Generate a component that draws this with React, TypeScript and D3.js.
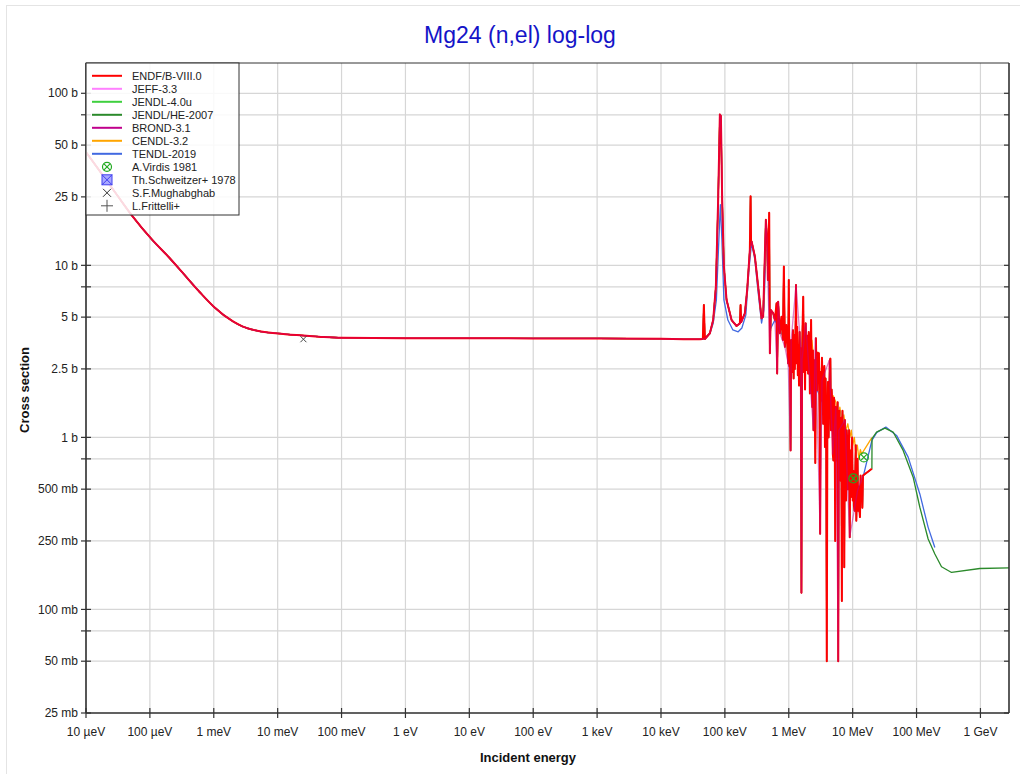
import React from "react";
import * as d3 from "d3";

// ---- data (energy in eV, cross section in barns) ----

// smooth 1/v + potential scattering part, shared by all evaluations
const thermalE = [1e-5, 2e-5, 3e-5, 5.4e-5, 1.1e-4, 2e-4, 3.3e-4, 6e-4, 1e-3, 2e-3, 2.8e-3, 5e-3, 1e-2, 2e-2, 4.4e-2, 0.1, 1, 10, 100, 1e3, 1e4, 3e4, 4.06e4];
const thermalXs = [45.5, 31.9, 25.9, 19.2, 14.0, 11.1, 9.0, 7.0, 5.75, 4.72, 4.42, 4.15, 4.02, 3.93, 3.85, 3.79, 3.77, 3.77, 3.76, 3.76, 3.74, 3.72, 3.72];

// ENDF/B-VIII.0 resolved resonances below 1 MeV
const endfResE = [4.52e4, 4.69e4, 4.86e4, 5.82e4, 6.56e4, 7.23e4, 7.85e4, 8.35e4, 8.66e4, 9.07e4,
    9.65e4, 1.063e5, 1.273e5, 1.524e5, 1.717e5, 1.76e5, 1.8e5, 2.056e5, 2.234e5, 2.46e5,
    2.525e5, 2.57e5, 2.62e5, 2.95e5, 3.32e5, 3.75e5, 3.97e5, 4.38e5, 4.59e5, 4.71e5,
    4.94e5, 5.06e5, 5.25e5, 5.7e5, 6.06e5, 6.44e5, 6.58e5, 6.82e5, 7.26e5, 7.71e5,
    8.08e5, 8.38e5, 8.69e5, 9.17e5, 9.79e5];
const endfResXs = [3.73, 5.88, 3.73, 4.03, 4.81, 7.52, 24.1, 75.4, 73.7, 24.1,
    9.84, 6.29, 4.81, 4.44, 4.6, 5.88, 4.68, 5.27, 7.2, 12.3,
    25.2, 13.2, 13.76, 11.25, 7.52, 4.92, 5.03, 18.4, 14.1, 8.23,
    20.2, 3.08, 5.5, 5.27, 4.81, 6.02, 2.35, 6.15, 4.03, 5.03,
    3.68, 9.84, 3.36, 4.5, 2.69];

// ENDF/B-VIII.0 dense region 1 - 20 MeV (energies in MeV)
const endfDenseMeV = [1.000, 1.022, 1.044, 1.067, 1.091, 1.115, 1.139, 1.164, 1.190, 1.216,
    1.243, 1.270, 1.298, 1.327, 1.356, 1.386, 1.416, 1.447, 1.479, 1.512,
    1.545, 1.579, 1.614, 1.649, 1.685, 1.722, 1.760, 1.799, 1.839, 1.879,
    1.920, 1.963, 2.006, 2.050, 2.095, 2.141, 2.188, 2.236, 2.285, 2.335,
    2.387, 2.439, 2.493, 2.548, 2.604, 2.661, 2.719, 2.779, 2.840, 2.903,
    2.966, 3.032, 3.098, 3.166, 3.236, 3.307, 3.380, 3.454, 3.530, 3.608,
    3.687, 3.768, 3.851, 3.935, 4.022, 4.110, 4.200, 4.293, 4.387, 4.483,
    4.582, 4.683, 4.786, 4.891, 4.998, 5.108, 5.221, 5.335, 5.453, 5.573,
    5.695, 5.820, 5.948, 6.079, 6.213, 6.349, 6.489, 6.632, 6.777, 6.926,
    7.079, 7.234, 7.393, 7.556, 7.722, 7.892, 8.066, 8.243, 8.424, 8.610,
    8.799, 8.992, 9.190, 9.392, 9.599, 9.810, 10.03, 10.25, 10.47, 10.70,
    10.94, 11.18, 11.42, 11.67, 11.93, 12.19, 12.46, 12.74, 13.02, 13.30,
    13.59, 13.89, 14.20, 14.51, 20.0];
const endfDenseXs = [8.23, 2.6, 3.6, 0.84, 3.68, 2.4, 3.08, 4.2, 2.2, 3.94,
    2.5, 3.6, 7.69, 2.7, 4.4, 2.3, 3.44, 2.0, 4.1, 2.15,
    3.3, 0.125, 2.81, 4.6, 6.56, 2.4, 3.22, 1.9, 4.6, 2.8,
    2.46, 3.9, 2.35, 4.1, 3.68, 1.8, 3.0, 4.81, 2.2, 1.5,
    3.2, 1.1, 2.81, 1.6, 0.71, 3.77, 2.2, 1.88, 3.1, 2.46,
    3.08, 1.4, 0.275, 2.4, 1.64, 2.9, 2.15, 1.2, 2.35, 2.6,
    0.88, 2.2, 1.1, 0.05, 1.26, 2.1, 1.0, 1.64, 2.8, 2.87,
    1.1, 1.9, 1.64, 0.8, 0.735, 1.7, 1.43, 0.25, 1.5, 1.26,
    0.735, 1.6, 0.05, 1.1, 1.43, 0.7, 0.56, 1.3, 0.112, 1.43,
    0.9, 1.2, 0.176, 1.26, 0.6, 0.43, 1.1, 0.96, 0.5, 0.64,
    1.1, 0.263, 0.84, 0.45, 0.68, 1.0, 0.43, 0.64, 0.4, 0.375,
    0.56, 0.9, 0.328, 0.49, 0.75, 0.375, 0.52, 0.38, 0.344, 0.6,
    0.45, 0.5, 0.39, 0.6, 0.657];

// BROND-3.1 (broad resonances, no narrow spikes)
const brondResE = [4.52e4, 4.86e4, 5.82e4, 6.56e4, 7.23e4, 7.85e4, 8.35e4, 8.66e4, 9.07e4, 9.65e4,
    1.063e5, 1.273e5, 1.524e5, 1.717e5, 1.8e5, 2.056e5, 2.234e5, 2.46e5, 2.57e5, 2.62e5,
    2.95e5, 3.32e5, 3.75e5, 3.97e5, 4.38e5, 4.59e5, 4.71e5, 5.06e5, 5.25e5, 5.7e5,
    6.06e5, 6.58e5, 6.82e5, 7.26e5, 8.69e5, 9.79e5, 1.067e6, 1.091e6, 1.298e6, 1.545e6,
    1.579e6, 1.614e6, 1.839e6, 2.439e6, 2.604e6, 3.098e6, 3.307e6, 4.293e6, 4.891e6, 5.453e6,
    5.948e6, 6.079e6, 7.556e6, 8.992e6, 1.193e7, 1.451e7];
const brondResXs = [3.73, 3.73, 4.03, 4.81, 7.52, 24.1, 75.4, 73.7, 24.1, 9.84,
    6.29, 4.81, 4.44, 4.6, 4.68, 5.27, 7.2, 12.3, 13.2, 13.76,
    11.25, 7.52, 4.92, 5.03, 18.4, 14.1, 8.23, 3.08, 5.5, 5.27,
    4.81, 2.35, 6.15, 4.03, 3.36, 2.69, 0.84, 3.68, 7.69, 3.3,
    0.125, 2.81, 4.6, 1.1, 3.77, 0.275, 2.15, 2.8, 0.8, 1.5,
    0.05, 1.1, 1.26, 0.263, 0.49, 0.6];

// TENDL-2019
const tendlResE = [4.52e4, 5.82e4, 6.56e4, 7.36e4, 8.05e4, 8.5e4, 8.98e4, 9.65e4, 1.114e5, 1.334e5,
    1.615e5, 1.845e5, 2.13e5, 2.375e5, 2.62e5, 2.95e5, 3.285e5, 3.75e5, 4.08e5, 4.38e5,
    4.76e5, 5.06e5, 6.06e5, 7.26e5, 8.69e5, 1.04e6, 1.245e6, 1.49e6, 1.785e6, 2.137e6,
    2.56e6, 3.067e6, 3.672e6, 4.4e6, 5.265e6, 6.3e6, 7.55e6, 9.04e6, 1.082e7, 1.296e7,
    2.0e7, 2.39e7, 3.31e7, 4.86e7, 7.39e7, 1.126e8, 1.519e8, 1.934e8];
const tendlResXs = [3.73, 4.0, 4.6, 6.29, 14.1, 22.5, 14.1, 6.29, 4.81, 4.21,
    4.11, 4.32, 5.15, 9.41, 13.5, 10.77, 7.2, 4.62, 5.5, 12.3,
    12.1, 4.21, 4.81, 4.21, 3.68, 3.3, 3.1, 2.9, 2.6, 2.3,
    2.0, 1.75, 1.45, 1.2, 1.0, 0.85, 0.72, 0.62, 0.45, 0.49,
    0.96, 1.07, 1.148, 1.027, 0.768, 0.469, 0.3, 0.229];

// CENDL-3.2 above 2.2 MeV
const cendlHighE = [2.3e6, 2.56e6, 2.854e6, 3.067e6, 3.296e6, 3.543e6, 3.81e6, 4.09e6, 4.4e6, 4.9e6,
    5.46e6, 5.87e6, 6.3e6, 6.78e6, 7.28e6, 7.83e6, 8.41e6, 9.04e6, 9.54e6, 1.0e7,
    1.063e7, 1.122e7, 1.185e7, 1.25e7, 1.32e7, 1.378e7, 2.0e7];
const cendlHighXs = [3.68, 2.39, 3.13, 1.757, 2.74, 2.15, 1.64, 2.09, 1.437, 1.757,
    1.6, 1.3, 1.5, 1.25, 1.35, 1.1, 1.2, 1.0, 1.1, 0.9,
    1.0, 0.8, 0.9, 0.75, 0.85, 0.8, 0.996];

// JENDL/HE-2007 above 20 MeV
const jendlHeE = [2.01e7, 2.366e7, 3.2e7, 4.3e7, 6.17e7, 8.85e7, 1.126e8, 1.519e8, 1.934e8, 2.46e8, 3.53e8, 9.79e8, 2.88e9];
const jendlHeXs = [0.983, 1.074, 1.133, 1.074, 0.84, 0.587, 0.3925, 0.2567, 0.2099, 0.1769, 0.164, 0.1729, 0.1745];

// experimental points
const virdisE = [1.026e7, 1.497e7];
const virdisXs = [0.577, 0.765];
const mughabghabE = [0.0253];
const mughabghabXs = [3.77];

// axes
const xTicks = [1e-5, 1e-4, 1e-3, 1e-2, 1e-1, 1, 10, 100, 1e3, 1e4, 1e5, 1e6, 1e7, 1e8, 1e9];
const xTickLabels = ["10 µeV", "100 µeV", "1 meV", "10 meV", "100 meV", "1 eV", "10 eV", "100 eV", "1 keV", "10 keV", "100 keV", "1 MeV", "10 MeV", "100 MeV", "1 GeV"];
const yTicks = [0.025, 0.05, 0.075, 0.1, 0.25, 0.5, 0.75, 1, 2.5, 5, 7.5, 10, 25, 50, 75, 100];
const yTickLabels = ["25 mb", "50 mb", "", "100 mb", "250 mb", "500 mb", "", "1 b", "2.5 b", "5 b", "", "10 b", "25 b", "50 b", "", "100 b"];

type Pt = [number, number];
const zip = (e: number[], s: number[]): Pt[] => e.map((v, i) => [v, s[i]]);

const thermal = zip(thermalE, thermalXs);
const endf = thermal
    .concat(zip(endfResE, endfResXs))
    .concat(zip(endfDenseMeV.map(e => e * 1e6), endfDenseXs));
const brond = thermal.concat(zip(brondResE, brondResXs));
const tendl = thermal.concat(zip(tendlResE, tendlResXs));
const cendl = endf.filter(d => d[0] < 2.2e6).concat(zip(cendlHighE, cendlHighXs));
const jendlHe = endf.concat(zip(jendlHeE, jendlHeXs));

const FONT = "'Liberation Sans', Arial, Helvetica, sans-serif";
const plot = { left: 86, right: 1009, top: 63, bottom: 713 };
const SPLIT = 4.06e4; // smooth curve below, straight segments above

const x = d3.scaleLog().domain([1e-5, 2.8e9]).range([plot.left, plot.right]);
const y = d3.scaleLog().domain([0.025, 150]).range([plot.bottom, plot.top]);
const lineSmooth = d3.line<Pt>().x(d => x(d[0])).y(d => y(d[1])).curve(d3.curveMonotoneX);
const lineSharp = d3.line<Pt>().x(d => x(d[0])).y(d => y(d[1]));
const pathOf = (data: Pt[]) =>
    (lineSmooth(data.filter(d => d[0] <= SPLIT)) ?? "") + (lineSharp(data.filter(d => d[0] >= SPLIT)) ?? "");

const series = [
    { name: "TENDL-2019", color: "#4169e1", data: tendl, width: 1.3, opacity: 1 },
    { name: "CENDL-3.2", color: "#ffa500", data: cendl, width: 1.3, opacity: 1 },
    { name: "JENDL/HE-2007", color: "#2b8a2b", data: jendlHe, width: 1.3, opacity: 1 },
    { name: "JENDL-4.0u", color: "#3fd03f", data: endf, width: 1.3, opacity: 1 },
    { name: "JEFF-3.3", color: "#ff80ff", data: endf, width: 1.3, opacity: 1 },
    { name: "ENDF/B-VIII.0", color: "#ff0000", data: endf, width: 2, opacity: 1 },
    { name: "BROND-3.1", color: "#c0008c", data: brond, width: 1.3, opacity: 0.5 },
];

const legendLines = [
    { name: "ENDF/B-VIII.0", color: "#ff0000" },
    { name: "JEFF-3.3", color: "#ff80ff" },
    { name: "JENDL-4.0u", color: "#3fd03f" },
    { name: "JENDL/HE-2007", color: "#2b8a2b" },
    { name: "BROND-3.1", color: "#c0008c" },
    { name: "CENDL-3.2", color: "#ffa500" },
    { name: "TENDL-2019", color: "#4169e1" },
];
const legendMarkers = ["A.Virdis 1981", "Th.Schweitzer+ 1978", "S.F.Mughabghab", "L.Frittelli+"];

const cross = (cx: number, cy: number, r: number) =>
    `M${cx - r},${cy - r}L${cx + r},${cy + r}M${cx - r},${cy + r}L${cx + r},${cy - r}`;

const VirdisMark = ({ cx, cy }: { cx: number; cy: number }) => (
    <g stroke="#22aa22" strokeWidth={1.2} fill="none">
        <circle cx={cx} cy={cy} r={4.5} />
        <path d={cross(cx, cy, 3)} />
    </g>
);

const App: React.FC = () => {
    const rowY = (i: number) => 75.8 + i * 13;
    return (
        <svg width={1020} height={774} style={{ position: "absolute", left: 0, top: 0, background: "#fff" }} fontFamily={FONT}>
            <defs>
                <clipPath id="plotClip">
                    <rect x={plot.left} y={plot.top} width={plot.right - plot.left} height={plot.bottom - plot.top} />
                </clipPath>
            </defs>
            <rect x={6.5} y={5.5} width={1030} height={790} fill="none" stroke="#e4e4e4" />

            <text x={520} y={43} textAnchor="middle" fontSize={23} fill="#1414c8">Mg24 (n,el) log-log</text>

            {/* grid */}
            <g stroke="#d6d6d6" strokeWidth={1.2}>
                {xTicks.map(t => <line key={"gx" + t} x1={x(t)} x2={x(t)} y1={plot.top} y2={plot.bottom} />)}
                {yTicks.map(t => <line key={"gy" + t} x1={plot.left} x2={plot.right} y1={y(t)} y2={y(t)} />)}
            </g>

            {/* curves */}
            <g clipPath="url(#plotClip)" fill="none" strokeLinejoin="round">
                {series.map(s => (
                    <path key={s.name} d={pathOf(s.data)} stroke={s.color} strokeWidth={s.width} strokeOpacity={s.opacity} />
                ))}
                {zip(virdisE, virdisXs).map((d, i) => <VirdisMark key={"v" + i} cx={x(d[0])} cy={y(d[1])} />)}
                {zip(mughabghabE, mughabghabXs).map((d, i) => (
                    <path key={"m" + i} d={cross(x(d[0]), y(d[1]) + 1, 3)} stroke="#444" strokeWidth={1} />
                ))}
            </g>

            {/* frame */}
            <g stroke="#333" strokeWidth={1.6} fill="none">
                <line x1={plot.left} x2={plot.right} y1={plot.top} y2={plot.top} strokeWidth={1} />
                <line x1={plot.left} x2={plot.left} y1={plot.top} y2={plot.bottom} />
                <line x1={plot.left} x2={plot.right} y1={plot.bottom} y2={plot.bottom} />
                <line x1={plot.right} x2={plot.right} y1={plot.top} y2={plot.bottom} />
            </g>

            {/* y axis */}
            <g fontSize={12} fill="#222">
                {yTicks.map((t, i) => (
                    <g key={"yt" + t}>
                        <line x1={plot.left - 5} x2={plot.left + 5} y1={y(t)} y2={y(t)} stroke="#333" strokeWidth={1.2} />
                        <line x1={plot.right - 5} x2={plot.right} y1={y(t)} y2={y(t)} stroke="#333" strokeWidth={1.2} />
                        {yTickLabels[i] && (
                            <text x={plot.left - 8} y={y(t)} dy="0.35em" textAnchor="end">{yTickLabels[i]}</text>
                        )}
                    </g>
                ))}
            </g>

            {/* x axis */}
            <g fontSize={12} fill="#222">
                {xTicks.map((t, i) => (
                    <g key={"xt" + t}>
                        <line x1={x(t)} x2={x(t)} y1={plot.bottom - 5} y2={plot.bottom + 5} stroke="#333" strokeWidth={1.2} />
                        <text x={x(t)} y={plot.bottom + 23} textAnchor="middle">{xTickLabels[i]}</text>
                    </g>
                ))}
            </g>

            <text x={528} y={762} textAnchor="middle" fontSize={13} fontWeight="bold" fill="#111">Incident energy</text>
            <text transform="translate(29,390) rotate(-90)" textAnchor="middle" fontSize={13} fontWeight="bold" fill="#111">Cross section</text>

            {/* legend */}
            <g fontSize={11} fill="#222">
                <rect x={plot.left} y={plot.top} width={153} height={152} fill="#fff" fillOpacity={0.85} stroke="#333" strokeWidth={1} />
                {legendLines.map((l, i) => (
                    <g key={l.name}>
                        <line x1={92} x2={122} y1={rowY(i)} y2={rowY(i)} stroke={l.color} strokeWidth={2} />
                        <text x={132} y={rowY(i)} dy="0.35em">{l.name}</text>
                    </g>
                ))}
                {legendMarkers.map((name, j) => {
                    const cy = rowY(legendLines.length + j);
                    const cx = 107;
                    let mark: React.ReactNode = null;
                    if (j === 0) mark = <VirdisMark cx={cx} cy={cy} />;
                    else if (j === 1)
                        mark = (
                            <g stroke="#4040f0" strokeWidth={1}>
                                <rect x={cx - 5} y={cy - 5} width={10} height={10} fill="#a8a8ff" />
                                <path d={cross(cx, cy, 5)} />
                            </g>
                        );
                    else if (j === 2) mark = <path d={cross(cx, cy, 4)} stroke="#333" strokeWidth={1} />;
                    else mark = <path d={`M${cx - 6},${cy}L${cx + 6},${cy}M${cx},${cy - 6}L${cx},${cy + 6}`} stroke="#555" strokeWidth={1} />;
                    return (
                        <g key={name}>
                            {mark}
                            <text x={132} y={cy} dy="0.35em">{name}</text>
                        </g>
                    );
                })}
            </g>
        </svg>
    );
};

export default App;
